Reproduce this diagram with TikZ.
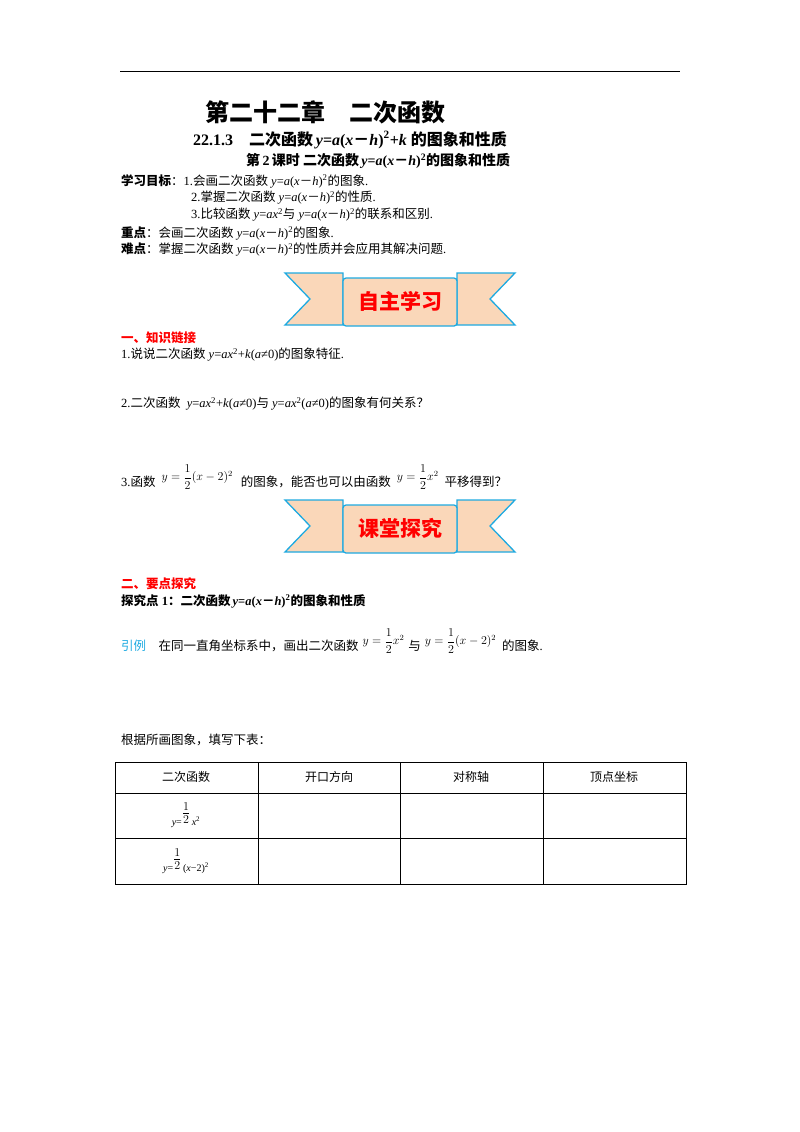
\documentclass[tikz,border=0pt]{standalone}
\usepackage{amsmath}
\usepackage{fontspec}
\setmainfont{Liberation Serif}
\newfontfamily\cjk{Noto Sans CJK SC}
\newcommand{\mi}[1]{\textit{#1}}
\newcommand{\mn}{{\cjk －}}
\definecolor{peach}{RGB}{250,215,185}
\definecolor{bblue}{RGB}{30,170,225}
\begin{document}
\begin{tikzpicture}[x=1pt,y=-1pt,
  t/.style={anchor=west,inner sep=0pt,font=\fontsize{12.5}{14}\selectfont},
  tb/.style={anchor=west,inner sep=0pt,font=\fontsize{13}{15}\selectfont\bfseries},
  cell/.style={inner sep=0pt,font=\fontsize{12}{14}\selectfont\cjk}]
\useasboundingbox (0,0) rectangle (800,1132);
\draw[line width=1pt] (120,72) -- (680,72);
\node[anchor=west,inner sep=0pt,font=\fontsize{24}{28}\selectfont\cjk\bfseries] (title) at (205,112) {第二十二章\quad 二次函数};
\node[tb,font=\fontsize{16}{18}\selectfont\bfseries] (s1) at (193,140) {22.1.3\quad {\cjk 二次函数}\,\mi{y}=\mi{a}(\mi{x}\mn\mi{h})\textsuperscript{2}+\mi{k} {\cjk 的图象和性质}};
\node[tb,font=\fontsize{14}{16}\selectfont\bfseries] (s2) at (246,161) {{\cjk 第}\,2\,{\cjk 课时\ 二次函数}\,\mi{y}=\mi{a}(\mi{x}\mn\mi{h})\textsuperscript{2}{\cjk 的图象和性质}};
\node[t] (g0) at (121,181) {{\cjk\bfseries 学习目标}{\cjk ：}1.{\cjk 会画二次函数} \mi{y}=\mi{a}(\mi{x}\mn\mi{h})\textsuperscript{2}{\cjk 的图象}.};
\node[t] (g2) at (191,198) {2.{\cjk 掌握二次函数} \mi{y}=\mi{a}(\mi{x}\mn\mi{h})\textsuperscript{2}{\cjk 的性质}.};
\node[t] (g3) at (191,215) {3.{\cjk 比较函数} \mi{y}=\mi{ax}\textsuperscript{2}{\cjk 与} \mi{y}=\mi{a}(\mi{x}\mn\mi{h})\textsuperscript{2}{\cjk 的联系和区别}.};
\node[t] (z) at (121,233) {{\cjk\bfseries 重点}{\cjk ：会画二次函数} \mi{y}=\mi{a}(\mi{x}\mn\mi{h})\textsuperscript{2}{\cjk 的图象}.};
\node[t] (n) at (121,250) {{\cjk\bfseries 难点}{\cjk ：掌握二次函数} \mi{y}=\mi{a}(\mi{x}\mn\mi{h})\textsuperscript{2}{\cjk 的性质并会应用其解决问题}.};
% banners
\foreach \cy/\txt/\nm in {300/自主学习/b1, 527/课堂探究/b2}{
  \begin{scope}[shift={(400,\cy)},line width=1.3pt]
  \filldraw[fill=peach,draw=bblue] (-115,-27) -- (-57,-27) -- (-57,25) -- (-115,25) -- (-90,-1) -- cycle;
  \filldraw[fill=peach,draw=bblue] (115,-27) -- (57,-27) -- (57,25) -- (115,25) -- (90,-1) -- cycle;
  \node[draw=bblue,fill=peach,rounded corners=3pt,minimum width=114pt,minimum height=48pt] (\nm) at (0,2) {};
  \node[text=red,font=\fontsize{21}{24}\selectfont\cjk\bfseries] at (0,1) {\txt};
  \end{scope}}
\node[t,text=red,font=\fontsize{12.5}{14}\selectfont\cjk\bfseries] (h1) at (121,338) {一、知识链接};
\node[t] (q1) at (121,355) {1.{\cjk 说说二次函数} \mi{y}=\mi{ax}\textsuperscript{2}+\mi{k}(\mi{a}≠0){\cjk 的图象特征}.};
\node[t] (q2) at (121,404) {2.{\cjk 二次函数}\ \ \mi{y}=\mi{ax}\textsuperscript{2}+\mi{k}(\mi{a}≠0){\cjk 与} \mi{y}=\mi{ax}\textsuperscript{2}(\mi{a}≠0){\cjk 的图象有何关系？}};
\node[t] (q3) at (121,477) {3.{\cjk 函数}\hspace{6pt}\raisebox{6pt}{\fontsize{12}{13}\selectfont$y=\dfrac12(x-2)^2$}\hspace{8pt}{\cjk 的图象，能否也可以由函数}\hspace{6pt}\raisebox{6pt}{\fontsize{12}{13}\selectfont$y=\dfrac12x^2$}\hspace{6pt}{\cjk 平移得到？}};
\node[t,text=red,font=\fontsize{12.5}{14}\selectfont\cjk\bfseries] (h2) at (121,584) {二、要点探究};
\node[t] (p1) at (121,601) {{\cjk\bfseries 探究点}\textbf{ 1}{\cjk\bfseries ：二次函数}\,\textbf{\mi{y}=\mi{a}(\mi{x}{\cjk\bfseries －}\mi{h})\textsuperscript{2}}{\cjk\bfseries 的图象和性质}};
\node[t] (yl) at (121,641) {{\cjk\color{bblue}引例}\quad{\cjk 在同一直角坐标系中，画出二次函数}\hspace{4pt}\raisebox{6pt}{\fontsize{12}{13}\selectfont$y=\dfrac12x^2$}\hspace{4pt}{\cjk 与}\hspace{4pt}\raisebox{6pt}{\fontsize{12}{13}\selectfont$y=\dfrac12(x-2)^2$}\hspace{6pt}{\cjk 的图象}.};
\node[t] (fill) at (121,740) {{\cjk 根据所画图象，填写下表：}};
% table
\draw[line width=0.6pt] (115,762) rectangle (686,884);
\foreach \yy in {793,838} \draw[line width=0.6pt] (115,\yy) -- (686,\yy);
\foreach \xx in {258,400,543} \draw[line width=0.6pt] (\xx,762) -- (\xx,884);
\node[cell] (c1) at (186,777) {二次函数};
\node[cell] (c2) at (329,777) {开口方向};
\node[cell] (c3) at (471,777) {对称轴};
\node[cell] (c4) at (614,777) {顶点坐标};
\node[inner sep=0pt] (r1) at (186,815) {\fontsize{10}{11}\selectfont \mi{y}=\raisebox{8pt}{\fontsize{18}{19}\selectfont$\frac{1}{2}$}\,\mi{x}\textsuperscript{2}};
\node[inner sep=0pt] (r2) at (186,861) {\fontsize{10}{11}\selectfont \mi{y}=\raisebox{8pt}{\fontsize{18}{19}\selectfont$\frac{1}{2}$}\,(\mi{x}−2)\textsuperscript{2}};
\end{tikzpicture}
\end{document}
